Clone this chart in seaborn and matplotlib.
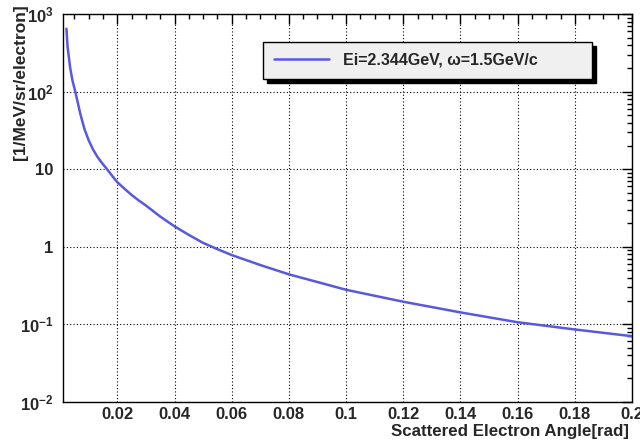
import numpy as np
import pandas as pd
import matplotlib
matplotlib.use("Agg")
import matplotlib.pyplot as plt
from matplotlib.ticker import FixedLocator, FuncFormatter, MultipleLocator, LogLocator, NullFormatter
import seaborn as sns

# Differential cross section vs. scattered electron angle
angle = [0.0022, 0.0026, 0.0035, 0.0043, 0.0053, 0.0071, 0.0085, 0.0100,
         0.0115, 0.0130, 0.0145, 0.0164, 0.0182, 0.0200, 0.0225, 0.025,
         0.0275, 0.030, 0.035, 0.040, 0.045, 0.050, 0.055, 0.060, 0.070,
         0.080, 0.090, 0.100, 0.120, 0.140, 0.160, 0.180, 0.200]
xsec = [650, 380, 205, 140, 100, 51, 33, 23.5,
        18.0, 14.5, 12.2, 10.0, 8.2, 6.8, 5.6, 4.65,
        3.95, 3.4, 2.45, 1.83, 1.42, 1.12, 0.93, 0.78, 0.58,
        0.44, 0.35, 0.278, 0.195, 0.142, 0.106, 0.0855, 0.070]
series_label = "Ei=2.344GeV, \u03c9=1.5GeV/c"
x_ticks = [0.02, 0.04, 0.06, 0.08, 0.1, 0.12, 0.14, 0.16, 0.18, 0.2]
y_ticks = [1e-2, 1e-1, 1, 10, 1e2, 1e3]
y_tick_labels = [r"$\mathbf{10^{-2}}$", r"$\mathbf{10^{-1}}$", "1", "10",
                 r"$\mathbf{10^{2}}$", r"$\mathbf{10^{3}}$"]

df = pd.DataFrame({"angle": angle, "xsec": xsec, "series": series_label})

sns.set_theme(style="white")
plt.rcParams["font.family"] = ["Liberation Sans", "DejaVu Sans"]
plt.rcParams["font.weight"] = "bold"
plt.rcParams["mathtext.fontset"] = "custom"
plt.rcParams["mathtext.bf"] = "Liberation Sans:bold"
plt.rcParams["mathtext.rm"] = "Liberation Sans:bold"
plt.rcParams["mathtext.default"] = "bf"

fig = plt.figure(figsize=(6.4, 4.43), dpi=100)
ax = fig.add_axes([63 / 640, 1 - 401.7 / 443, 569 / 640, 387.5 / 443])

sns.lineplot(data=df, x="angle", y="xsec", hue="series",
             palette=["#5858e2"], linewidth=1.8, ax=ax, legend=False)

ax.set_yscale("log")
ax.set_xlim(0.001, 0.2)
ax.set_ylim(1e-2, 1e3)

# ticks: inward on all four sides
ax.xaxis.set_major_locator(FixedLocator(x_ticks))
ax.xaxis.set_minor_locator(MultipleLocator(0.005))
ax.xaxis.set_major_formatter(FuncFormatter(lambda v, p: f"{v:g}"))
ax.yaxis.set_major_locator(FixedLocator(y_ticks))
ax.yaxis.set_major_formatter(FuncFormatter(
    lambda v, p: y_tick_labels[int(round(np.log10(v))) + 2]))
ax.yaxis.set_minor_locator(LogLocator(base=10, subs=np.arange(2, 10), numticks=20))
ax.yaxis.set_minor_formatter(NullFormatter())

ax.tick_params(which="both", direction="in", top=True, right=True,
               color="black", width=1)
ax.tick_params(which="major", length=7)
ax.tick_params(which="minor", length=3.5)
ax.tick_params(axis="x", which="major", labelsize=12, pad=4)
ax.tick_params(axis="y", which="major", labelsize=12, pad=7)
for lbl in ax.get_xticklabels() + ax.get_yticklabels():
    lbl.set_fontweight("bold")

for s in ax.spines.values():
    s.set_color("black")
    s.set_linewidth(1)

ax.grid(True, which="major", color="black", linestyle=(0, (1, 2)), linewidth=0.8)

ax.set_xlabel("Scattered Electron Angle[rad]", fontsize=12.2, fontweight="bold", loc="right")
ax.set_ylabel("[1/MeV/sr/electron]", fontsize=12.5, fontweight="bold", loc="top")
ax.xaxis.set_label_coords(0.995, -0.057)
ax.yaxis.set_label_coords(-0.062, 1.025)

# legend box with drop shadow
handle = plt.Line2D([], [], color="#5858e2", linewidth=1.8)
leg = fig.legend([handle], [series_label], loc="upper left",
                 bbox_to_anchor=(263.3 / 640, 1 - 41.7 / 443, 328.4 / 640, 0.0),
                 mode="expand", frameon=True, fancybox=False,
                 shadow={"ox": 3, "oy": -3, "color": "black", "alpha": 1},
                 prop={"size": 11.5, "weight": "bold"},
                 handlelength=3.4, handletextpad=0.9, borderpad=0.7,
                 borderaxespad=0)
leg.get_frame().set_facecolor("#f0f0f0")
leg.get_frame().set_edgecolor("black")
leg.get_frame().set_linewidth(1)
leg.get_frame().set_alpha(1)

fig.savefig("out.png", dpi=100, facecolor="white")
